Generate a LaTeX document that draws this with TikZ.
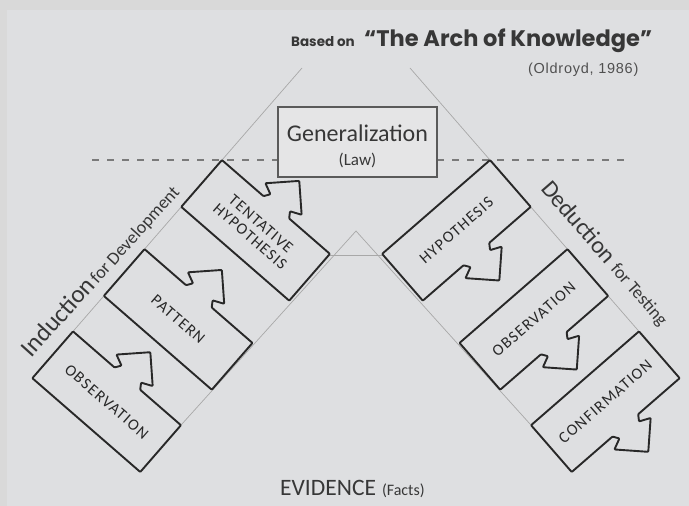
\documentclass[tikz,border=0pt]{standalone}
\usepackage{fontspec}
\setmainfont{Carlito}
\newfontfamily\capsfont[LetterSpace=8]{Carlito}
\newfontfamily\headfont{Poppins}
\newfontfamily\citefont[LetterSpace=5]{Liberation Sans}

\definecolor{frame}{RGB}{217,217,217}
\definecolor{paper}{RGB}{222,223,225}
\definecolor{boxink}{RGB}{40,40,40}
\definecolor{guidegray}{RGB}{168,168,168}
\definecolor{dashgray}{RGB}{122,122,122}
\definecolor{genfill}{RGB}{229,229,230}
\definecolor{genedge}{RGB}{90,90,90}
\definecolor{textink}{RGB}{55,55,55}
\definecolor{citeink}{RGB}{80,80,80}

\tikzset{
  guide/.style={draw=guidegray, line width=0.7pt},
  levelline/.style={draw=dashgray, line width=1.4pt, dash pattern=on 7pt off 8pt},
  stepbox/.style={draw=boxink, fill=paper, line width=1.9pt, line join=round, rounded corners=0.8pt},
  steptext/.style={font=\capsfont\fontsize{16}{16.5}\selectfont, text=boxink, align=center, inner sep=0pt},
  genbox/.style={draw=genedge, fill=genfill, line width=1.1pt, inner sep=0pt},
  legtext/.style={text=textink, inner sep=0pt, anchor=base},
  % box with its arrow on the upper long edge (origin = top corner)
  upstep/.pic={\path[stepbox] (0,0) -- (55,0) -- (59,6) -- (48,11) -- (72,35) -- (96,11)
      -- (85,6) -- (89,0) -- (143,0) -- (143,-62) -- (0,-62) -- cycle;},
  % box with its arrow on the lower long edge (origin = top corner)
  downstep/.pic={\path[stepbox] (0,0) -- (143,0) -- (143,-62) -- (89,-62) -- (85,-68)
      -- (96,-73) -- (72,-97) -- (48,-73) -- (59,-68) -- (55,-62) -- (0,-62) -- cycle;}
}

\begin{document}
\begin{tikzpicture}[x=1pt,y=1pt]
% page and panel
\fill[frame] (0,0) rectangle (689,506);
\fill[paper] (7,0) rectangle (689,496);
\useasboundingbox (0,0) rectangle (689,506);

% arch legs: outer and inner guide lines
\coordinate (lout) at (302,438);
\coordinate (rout) at (410,438);
\coordinate (lfoot) at (73.02,174.61);
\coordinate (rfoot) at (638.98,174.61);
\coordinate (linfoot) at (180.9,80.8);
\coordinate (rinfoot) at (531.1,80.8);
\coordinate (apex) at (356,275);
\coordinate (lbase) at (329.9,250.5);
\coordinate (rbase) at (382.1,250.5);
\draw[guide] (lout) -- (lfoot);
\draw[guide] (rout) -- (rfoot);
\draw[guide] (linfoot) -- (apex) -- (rinfoot);
\draw[guide] (lbase) -- (rbase);

% level of the law
\coordinate (dashl) at (92,346);
\coordinate (dashr) at (630,346);
\draw[levelline] (dashl) -- (dashr);

% generalization box
\node[genbox, minimum width=159pt, minimum height=70pt] (gen) at (357.5,364) {};
\node[font=\fontsize{24}{28}\selectfont, text=textink, inner sep=0pt, anchor=base] (gentitle) at (357.5,364.3) {Generalization};
\node[font=\fontsize{17}{20}\selectfont, text=textink, inner sep=0pt, anchor=base] (genlaw) at (357.5,340) {(Law)};

% induction steps
\pic[transform shape, shift={(221.96,345.93)}, rotate=-41] {upstep};
\pic[transform shape, shift={(144.54,256.87)}, rotate=-41] {upstep};
\pic[transform shape, shift={(73.02,174.61)}, rotate=-41] {upstep};

% deduction steps
\pic[transform shape, shift={(490.04,345.93)}, xscale=-1, rotate=-41] {downstep};
\pic[transform shape, shift={(567.46,256.87)}, xscale=-1, rotate=-41] {downstep};
\pic[transform shape, shift={(638.98,174.61)}, xscale=-1, rotate=-41] {downstep};

% step labels
\node[steptext, rotate=-41] (tent) at (255.58,275.62) {TENTATIVE\\HYPOTHESIS};
\node[steptext, rotate=-41] (patt) at (178.16,186.56) {PATTERN};
\node[steptext, rotate=-41] (lobs) at (106.64,104.30) {OBSERVATION};
\node[steptext, rotate=41] (hyp) at (456.42,275.62) {HYPOTHESIS};
\node[steptext, rotate=41] (robs) at (533.84,186.56) {OBSERVATION};
\node[steptext, rotate=41] (conf) at (605.36,104.30) {CONFIRMATION};

% leg captions
\node[legtext, rotate=48] (induction) at (105.9,230.6)
  {{\fontsize{25}{28}\selectfont Induction} {\fontsize{18}{20}\selectfont for Development}};
\node[legtext, rotate=-49] (deduction) at (600,248)
  {{\fontsize{24}{28}\selectfont Deduction}\hspace{6pt}{\fontsize{18}{20}\selectfont for Testing}};

% evidence
\node[text=textink, inner sep=0pt, anchor=base west] (evidence) at (280,10.5)
  {{\fontsize{23.5}{26}\selectfont EVIDENCE}\hspace{6pt}{\fontsize{16}{18}\selectfont (Facts)}};

% heading
\node[font=\headfont\bfseries\fontsize{13.5}{15}\selectfont, text=textink, inner sep=0pt, anchor=base east] (basedon) at (355,459.3) {Based on};
\node[font=\headfont\bfseries\fontsize{22.5}{26}\selectfont, text=textink, inner sep=0pt, anchor=base west] (arch) at (364,459.3) {“The Arch of Knowledge”};
\node[font=\citefont\fontsize{14.5}{16}\selectfont, text=citeink, inner sep=0pt, anchor=base west] (cite) at (528,432) {(Oldroyd, 1986)};
\end{tikzpicture}
\end{document}
